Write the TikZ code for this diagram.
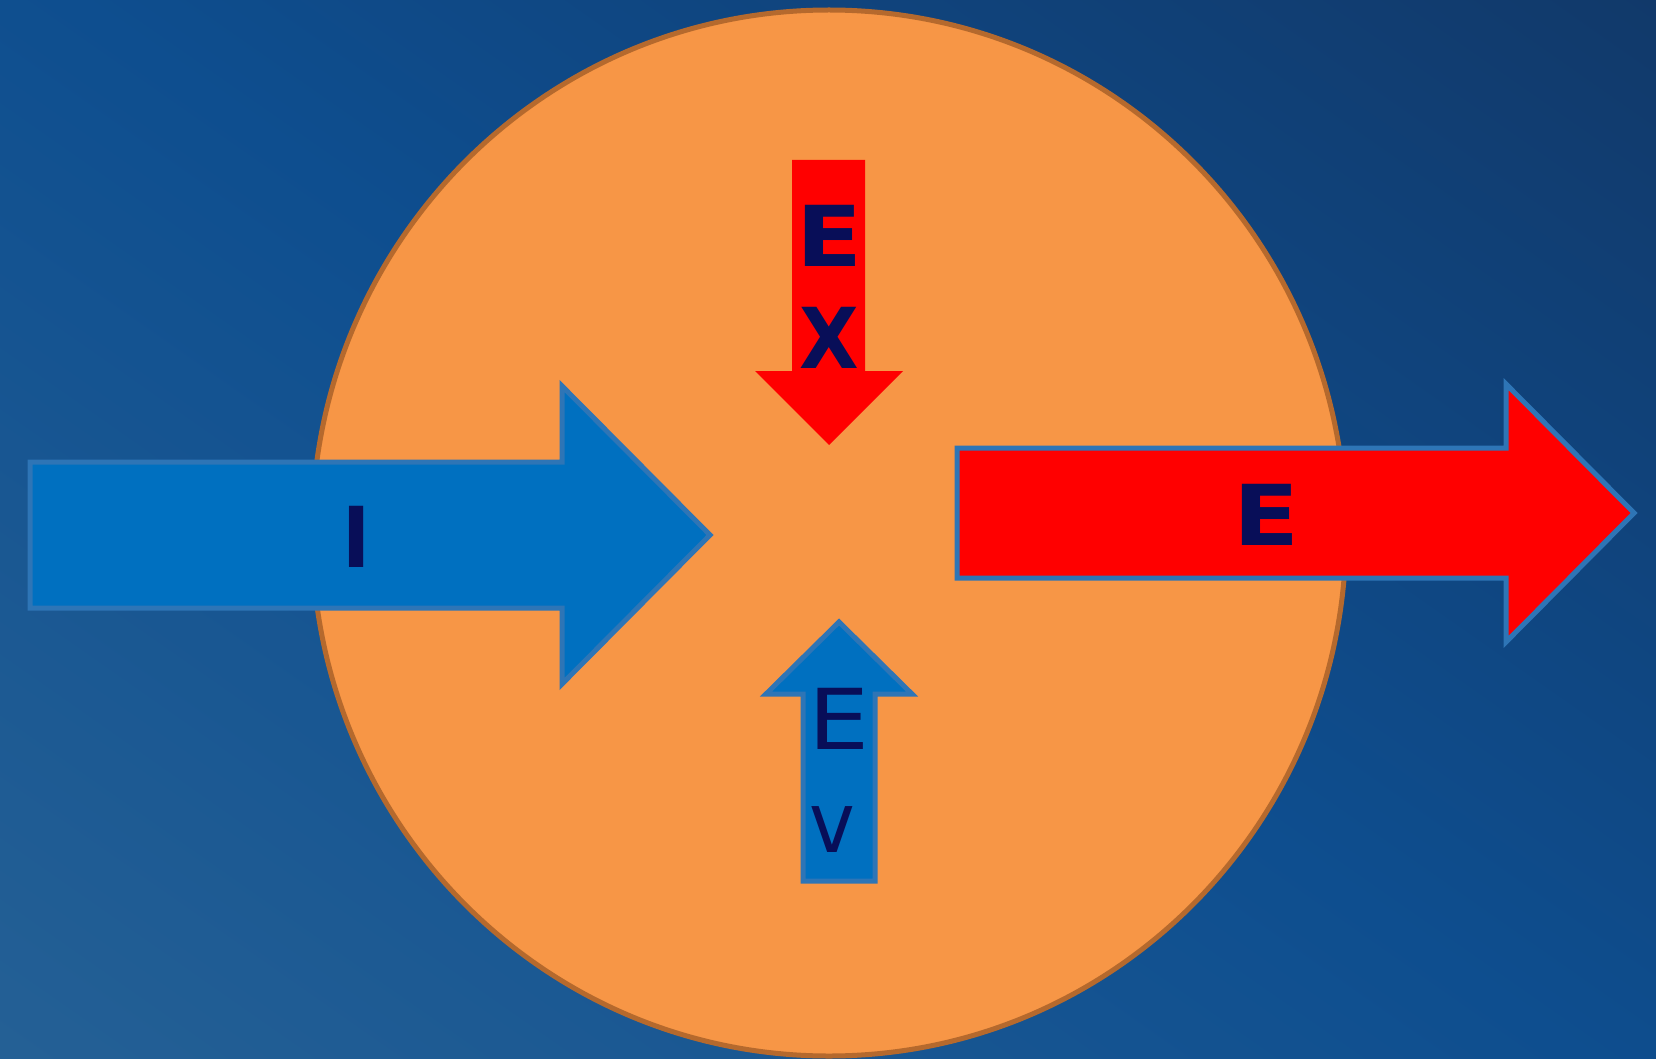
\documentclass[tikz,border=0pt]{standalone}
\usepackage{fontspec}
\setmainfont{DejaVu Sans}
\definecolor{orangefill}{HTML}{F79646}
\definecolor{orangeline}{HTML}{B5692D}
\definecolor{bluefill}{HTML}{0070C0}
\definecolor{blueline}{HTML}{2E75B6}
\definecolor{redfill}{HTML}{FF0000}
\definecolor{txt}{HTML}{080E58}
\definecolor{bgbl}{HTML}{2E6898}
\definecolor{bgmid}{HTML}{0E4E8F}
\definecolor{bgtr}{HTML}{13305A}
\pgfdeclarehorizontalshading{bgshade}{100bp}{color(0bp)=(bgbl); color(50bp)=(bgmid); color(100bp)=(bgtr)}
\tikzset{
  lbl/.style={text=txt, inner sep=0pt, anchor=base, font=\fontsize{84}{84}\selectfont},
  lblb/.style={lbl, font=\bfseries\fontsize{84}{84}\selectfont},
  bluearrow/.style={fill=bluefill, draw=blueline, line width=5pt},
  redarrow/.style={fill=redfill, draw=blueline, line width=5pt}
}
\begin{document}
\begin{tikzpicture}[x=1pt,y=-1pt]
\useasboundingbox (0,0) rectangle (1656,1059);
\shade[shading=bgshade, shading angle=55] (0,0) rectangle (1656,1059);
% circle
\draw[orangeline, fill=orangefill, line width=5pt] (829,533) ellipse [x radius=517, y radius=523];
% input arrow
\path[bluearrow] (30,462) -- (562,462) -- (562,386) -- (710,535) -- (562,684) -- (562,608) -- (30,608) -- cycle;
% output arrow
\path[redarrow] (957,448) -- (1506,448) -- (1506,384) -- (1634,513) -- (1506,642) -- (1506,578) -- (957,578) -- cycle;
% down arrow
\path[fill=redfill] (792,160) -- (865,160) -- (865,371) -- (903,371) -- (829,445) -- (755,371) -- (792,371) -- cycle;
% up arrow
\path[bluearrow] (803,881) -- (803,694) -- (766,694) -- (839,622) -- (912,694) -- (875,694) -- (875,881) -- cycle;
% labels
\node[lblb] (ti) at (357,567) {\scalebox{0.9}[1]{I}};
\node[lblb] (te) at (1266,545) {\scalebox{1.15}[1]{E}};
\node[lblb] (tex1) at (829,266) {\scalebox{1.15}[1]{E}};
\node[lblb] (tex2) at (829,368) {\scalebox{0.92}[1]{X}};
\node[lbl] (tev1) at (839,749) {\scalebox{1.15}[1]{E}};
\node[lbl] (tev2) at (832,852) {\scalebox{0.92}[1]{v}};
\end{tikzpicture}
\end{document}
